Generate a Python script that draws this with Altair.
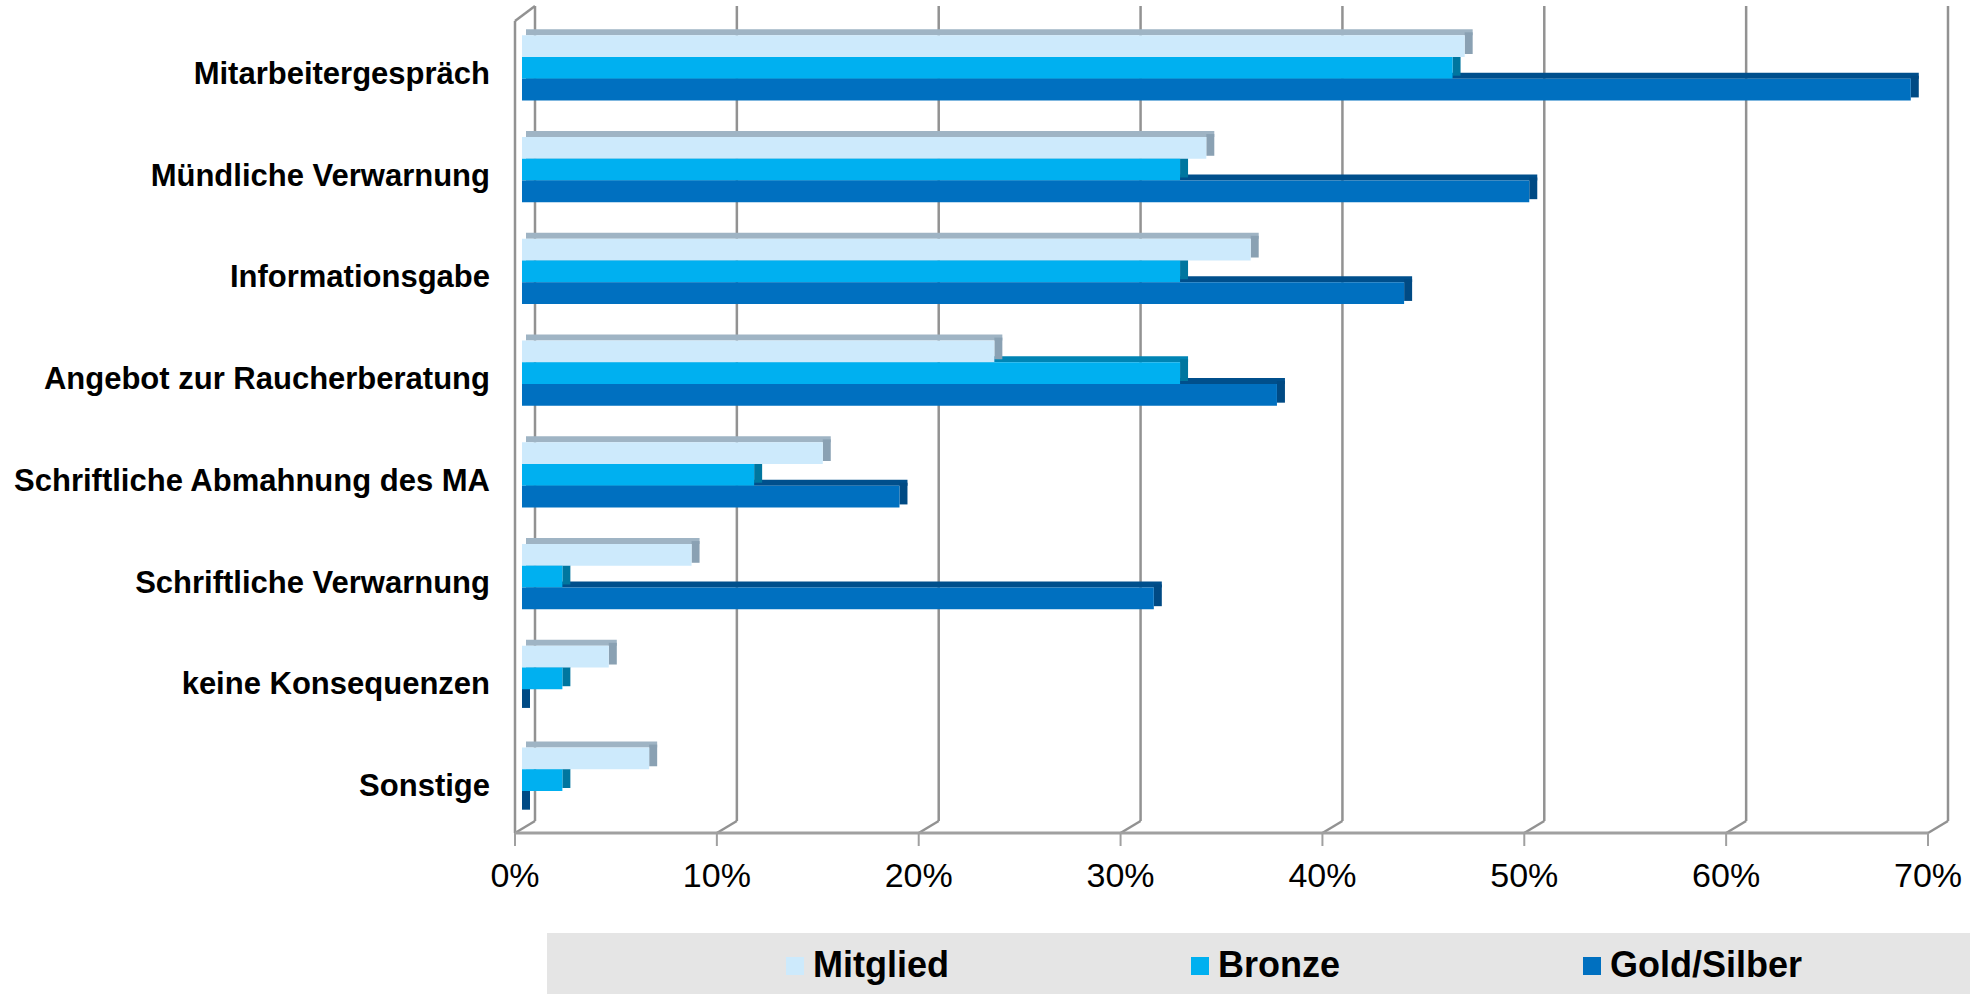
import altair as alt
import pandas as pd

# ---------------- data ----------------
categories = [
    "Mitarbeitergespräch",
    "Mündliche Verwarnung",
    "Informationsgabe",
    "Angebot zur Raucherberatung",
    "Schriftliche Abmahnung des MA",
    "Schriftliche Verwarnung",
    "keine Konsequenzen",
    "Sonstige",
]
series = ["Mitglied", "Bronze", "Gold/Silber"]
mitglied = [46.7, 33.9, 36.1, 23.4, 14.9, 8.4, 4.3, 6.3]
bronze = [46.1, 32.6, 32.6, 32.6, 11.5, 2.0, 2.0, 2.0]
gold = [68.8, 49.9, 43.7, 37.4, 18.7, 31.3, 0.0, 0.0]
x_ticks = [0, 10, 20, 30, 40, 50, 60, 70]
x_tick_labels = ["0%", "10%", "20%", "30%", "40%", "50%", "60%", "70%"]

# ---------------- styles ----------------
front_colors = ["#cdeafc", "#00b0f0", "#0070c0"]
top_colors = ["#9fb4c4", "#0084b4", "#004f8c"]
side_colors = ["#8aa1b3", "#00769f", "#004a84"]
FONT = "Liberation Sans"
GRID = "#929292"
BAR = 0.2133  # bar thickness in category units

rows = []
for s_idx, (name, vals) in enumerate(zip(series, [mitglied, bronze, gold])):
    for c_idx, (cat, v) in enumerate(zip(categories, vals)):
        pos = c_idx + (s_idx - 1) * BAR
        rows.append(
            dict(
                category=cat,
                series=name,
                value=v,
                start=0.0,
                top=pos - BAR / 2,
                bot=pos + BAR / 2,
                top_color=top_colors[s_idx],
                side_color=side_colors[s_idx],
            )
        )
df = pd.DataFrame(rows)
ticks_df = pd.DataFrame({"tick": x_ticks, "label": x_tick_labels})
cats_df = pd.DataFrame({"idx": list(range(len(categories))), "category": categories})
one = pd.DataFrame({"a": [0]})

W, H = 1413, 814
xs = alt.Scale(domain=[0, 70], nice=False, zero=True)
ys = alt.Scale(domain=[-0.5, 7.5], reverse=True, nice=False, zero=False)

# back wall gridlines
grid = alt.Chart(ticks_df).mark_rule(xOffset=20, color=GRID, strokeWidth=2.5).encode(
    x=alt.X("tick:Q", scale=xs, axis=None),
    y=alt.value(-11),
    y2=alt.value(804),
)
# floor slants
slants = alt.Chart(ticks_df).mark_rule(x2Offset=20, color=GRID, strokeWidth=2.5).encode(
    x=alt.X("tick:Q", scale=xs, axis=None),
    x2="tick:Q",
    y=alt.value(816),
    y2=alt.value(804),
)
# front floor line and ticks
floor = alt.Chart(one).mark_rule(color="#a0a0a0", strokeWidth=3).encode(
    x=alt.value(0), x2=alt.value(W), y=alt.value(816)
)
ticks = alt.Chart(ticks_df).mark_rule(color="#a0a0a0", strokeWidth=2).encode(
    x=alt.X("tick:Q", scale=xs, axis=None),
    y=alt.value(816),
    y2=alt.value(829),
)
tick_labels = alt.Chart(ticks_df).mark_text(
    font=FONT, fontSize=34, color="black", align="center", baseline="alphabetic"
).encode(
    x=alt.X("tick:Q", scale=xs, axis=None),
    y=alt.value(870),
    text="label:N",
)
# left wall front edge and top slant
wall_front = alt.Chart(one).mark_rule(color=GRID, strokeWidth=2.5).encode(
    x=alt.value(0), y=alt.value(4), y2=alt.value(816)
)
wall_top = alt.Chart(one).mark_rule(color=GRID, strokeWidth=2.5).encode(
    x=alt.value(0), x2=alt.value(20), y=alt.value(4), y2=alt.value(-11)
)
# category labels
cat_labels = alt.Chart(cats_df).mark_text(
    font=FONT, fontSize=31, fontWeight="bold", color="black",
    align="right", baseline="alphabetic", dx=-25, dy=16,
).encode(
    y=alt.Y("idx:Q", scale=ys, axis=None),
    x=alt.value(0),
    text="category:N",
)

# 3D faces of bars
top_face = alt.Chart(df).mark_rect(xOffset=11, x2Offset=15, yOffset=-6, y2Offset=0).encode(
    x=alt.X("start:Q", scale=xs, axis=None),
    x2="value:Q",
    y=alt.Y("top:Q", scale=ys, axis=None),
    y2="top:Q",
    fill=alt.Fill("top_color:N", scale=None),
)
side_face = alt.Chart(df).mark_rect(xOffset=7, x2Offset=15, yOffset=-3, y2Offset=-3).encode(
    x=alt.X("value:Q", scale=xs, axis=None),
    x2="value:Q",
    y=alt.Y("top:Q", scale=ys, axis=None),
    y2="bot:Q",
    fill=alt.Fill("side_color:N", scale=None),
)
front = alt.Chart(df).mark_rect(xOffset=7, x2Offset=7).encode(
    x=alt.X("start:Q", scale=xs, axis=None),
    x2="value:Q",
    y=alt.Y("top:Q", scale=ys, axis=None),
    y2="bot:Q",
    color=alt.Color(
        "series:N",
        scale=alt.Scale(domain=series, range=front_colors),
        legend=alt.Legend(
            title=None,
            orient="none",
            legendX=262,
            legendY=931,
            direction="horizontal",
            symbolType="square",
            symbolSize=324,
            symbolStrokeWidth=0,
            symbolOpacity=1,
            labelFont=FONT,
            labelFontSize=36,
            labelFontWeight="bold",
            labelColor="black",
            labelOffset=0,
            columnPadding=233,
            padding=0,
            labelLimit=400,
        ),
    ),
)

legend_box = alt.Chart(one).mark_rect(color="#e5e5e5").encode(
    x=alt.value(32), x2=alt.value(1455), y=alt.value(916), y2=alt.value(977)
)

chart = (
    alt.layer(
        legend_box, grid, slants, wall_front, wall_top, floor, ticks, tick_labels,
        cat_labels, top_face, side_face, front,
    )
    .properties(
        width=W,
        height=H,
        autosize=alt.AutoSizeParams(type="none"),
        padding={"left": 515, "top": 17, "right": 1970 - 515 - W, "bottom": 994 - 17 - H},
        background="white",
    )
    .configure_view(stroke=None)
)

chart.save("out.html", embed_options={"renderer": "svg", "actions": False})
